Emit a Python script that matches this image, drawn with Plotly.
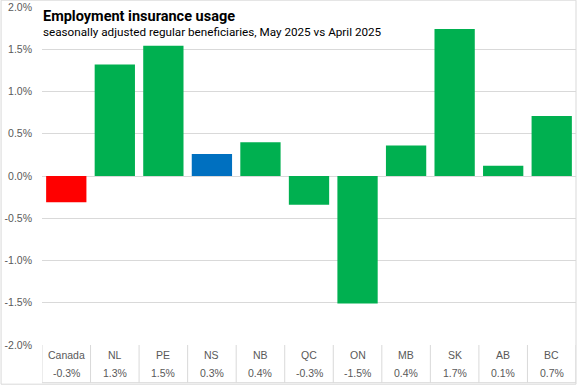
import plotly.graph_objects as go

categories = ["Canada", "NL", "PE", "NS", "NB", "QC", "ON", "MB", "SK", "AB", "BC"]
values = [-0.31, 1.32, 1.54, 0.26, 0.40, -0.34, -1.51, 0.36, 1.74, 0.12, 0.71]
bar_colors = ["#FF0000", "#00B050", "#00B050", "#0070C0", "#00B050", "#00B050",
              "#00B050", "#00B050", "#00B050", "#00B050", "#00B050"]
y_ticks = [2.0, 1.5, 1.0, 0.5, 0.0, -0.5, -1.0, -1.5, -2.0]
value_labels = [f"{v:.1f}%" for v in values]

W, H = 577, 385
ML, MR, MT, MB = 41.5, 0.5, 7.3, 39.7
PW, PH = W - ML - MR, H - MT - MB

def py(pix):  # container pixel y -> paper y
    return (H - MB - pix) / PH

def px(pix):  # container pixel x -> paper x
    return (pix - ML) / PW

GRID = "#d9d9d9"
TXT = "#595959"
FONT = "Liberation Sans"

fig = go.Figure()
fig.add_trace(go.Bar(
    x=list(range(len(categories))), y=values,
    marker=dict(color=bar_colors, line=dict(width=0)),
    width=0.83, hoverinfo="skip",
))

annotations = []
shapes = []
for i, (c, lab) in enumerate(zip(categories, value_labels)):
    annotations.append(dict(x=i, y=py(355), xref="x", yref="paper", text=c,
                            showarrow=False, font=dict(family=FONT, size=10.5, color=TXT),
                            xanchor="center", yanchor="middle"))
    annotations.append(dict(x=i, y=py(373.5), xref="x", yref="paper", text=lab,
                            showarrow=False, font=dict(family=FONT, size=10.5, color=TXT),
                            xanchor="center", yanchor="middle"))
for i in range(len(categories) + 1):
    shapes.append(dict(type="line", xref="x", yref="paper", x0=i - 0.5, x1=i - 0.5,
                       y0=py(345.3), y1=py(383), line=dict(color=GRID, width=1)))
shapes.append(dict(type="line", xref="x", yref="paper", x0=-0.5, x1=len(categories) - 0.5,
                   y0=py(383), y1=py(383), line=dict(color=GRID, width=1)))
# outer chart border
shapes.append(dict(type="rect", xref="paper", yref="paper",
                   x0=px(0.5), x1=px(576.5), y0=py(384.5), y1=py(0.5),
                   line=dict(color=GRID, width=1), fillcolor="rgba(0,0,0,0)"))

annotations.append(dict(x=px(40), y=py(16.5), xref="paper", yref="paper",
                        text="<b>Employment insurance usage</b>", showarrow=False,
                        xanchor="left", yanchor="middle",
                        font=dict(family="Roboto", size=14.5, color="#000000")))
annotations.append(dict(x=px(40), y=py(32.5), xref="paper", yref="paper",
                        text="seasonally adjusted regular beneficiaries, May 2025 vs April 2025",
                        showarrow=False, xanchor="left", yanchor="middle",
                        font=dict(family="Roboto", size=11.7, color="#000000")))

fig.update_layout(
    width=W, height=H,
    margin=dict(l=ML, r=MR, t=MT, b=MB, pad=0),
    paper_bgcolor="white", plot_bgcolor="white",
    showlegend=False,
    xaxis=dict(range=[-0.5, len(categories) - 0.5], showticklabels=False,
               showgrid=False, zeroline=False, showline=False, ticks=""),
    yaxis=dict(range=[-2.0, 2.0], tickvals=y_ticks,
               ticktext=[f"{t:.1f}%" for t in y_ticks],
               showgrid=True, gridcolor=GRID, gridwidth=1,
               zeroline=True, zerolinecolor=GRID, zerolinewidth=1,
               showline=False, ticks="", ticklabelstandoff=9,
               tickfont=dict(family=FONT, size=10.5, color=TXT)),
    annotations=annotations,
    shapes=shapes,
)

fig.write_html("out.html", config={"displayModeBar": False},
               post_script="document.body.style.margin='0';document.body.style.padding='0';")
